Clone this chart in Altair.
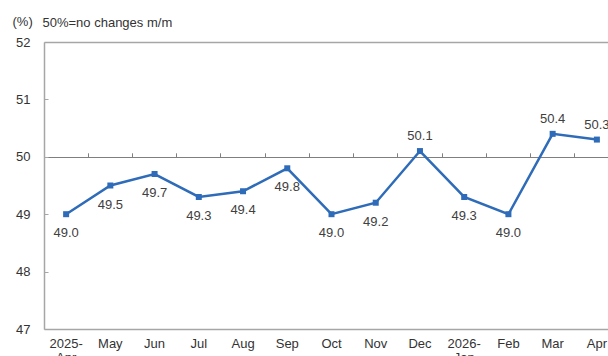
import altair as alt
import pandas as pd

months = ["2025-Apr", "May", "Jun", "Jul", "Aug", "Sep", "Oct", "Nov", "Dec",
          "2026-Jan", "Feb", "Mar", "Apr"]
values = [49.0, 49.5, 49.7, 49.3, 49.4, 49.8, 49.0, 49.2, 50.1, 49.3, 49.0, 50.4, 50.3]
y_ticks = [47, 48, 49, 50, 51, 52]

df = pd.DataFrame({"month": months, "pmi": values})
df["label"] = df["pmi"].map(lambda v: f"{v:.1f}")

FONT = "Liberation Sans"
BLUE = "#2e6bb8"
W, H = 564, 287
FULL = 575

xscale = alt.Scale(type="band", domain=months, range=[0, FULL], paddingInner=0, paddingOuter=0)
yscale = alt.Scale(domain=[47, 52], nice=False, zero=False)

label_expr = ("indexof(datum.value,'-')>0 ? [slice(datum.value,0,5), slice(datum.value,5)] : datum.value")

x_bottom = alt.X("month:N", scale=xscale, sort=months, title=None,
                 axis=alt.Axis(orient="bottom", labelAngle=0, ticks=False, tickSize=0,
                               labelPadding=8, labelExpr=label_expr, labelFont=FONT,
                               labelFontSize=13, labelColor="#333333", labelLineHeight=14,
                               domainColor="#a6a6a6", domainWidth=1.5, grid=False))
x_top = alt.X("month:N", scale=xscale, sort=months, title=None,
              axis=alt.Axis(orient="top", offset=-H * 2 / 5, labels=False, domain=False,
                            ticks=True, tickSize=4, tickColor="#808080", tickWidth=1,
                            bandPosition=0, grid=False))
x_none = alt.X("month:N", scale=xscale, sort=months, axis=None)

y_left = alt.Y("pmi:Q", scale=yscale,
               axis=alt.Axis(orient="left", values=y_ticks, ticks=False, tickSize=0,
                             labelPadding=14, labelFont=FONT, labelFontSize=13,
                             labelColor="#333333", domainColor="#a6a6a6", domainWidth=1.5,
                             grid=True,
                             gridColor={"expr": "datum.value==50 ? '#7f7f7f' : '#a6a6a6'"},
                             gridOpacity={"expr": "(datum.value==50 || datum.value==52) ? 1 : 0"},
                             gridWidth={"expr": "datum.value==50 ? 1.2 : 1.5"},
                             title="(%)", titleAngle=0, titleX=-32, titleY=-17,
                             titleAlign="left", titleBaseline="alphabetic", titleFont=FONT,
                             titleFontSize=13, titleFontWeight="normal", titleColor="#333333"))
y_right = alt.Y("pmi:Q", scale=yscale,
                axis=alt.Axis(orient="right", offset=-W, values=y_ticks, labels=False,
                              domain=False, ticks=True, tickSize=4, tickColor="#a6a6a6",
                              tickWidth=1, grid=False,
                              title="50%=no changes m/m", titleAngle=0, titleX=-2, titleY=-16,
                              titleAlign="left", titleBaseline="alphabetic", titleFont=FONT,
                              titleFontSize=13, titleFontWeight="normal", titleColor="#333333"))
y_none = alt.Y("pmi:Q", scale=yscale, axis=None)

base = alt.Chart(df)

line = base.mark_line(color=BLUE, strokeWidth=2.5).encode(x=x_bottom, y=y_left)
pts = base.mark_square(color=BLUE, size=36, opacity=1).encode(x=x_top, y=y_right)
lab_below = base.transform_filter("datum.pmi <= 50").mark_text(
    font=FONT, fontSize=13, color="#404040", baseline="alphabetic", dy=23
).encode(x=x_none, y=y_none, text="label:N")
lab_above = base.transform_filter("datum.pmi > 50").mark_text(
    font=FONT, fontSize=13, color="#404040", baseline="alphabetic", dy=-11
).encode(x=x_none, y=y_none, text="label:N")

chart = alt.layer(line, pts, lab_below, lab_above).resolve_axis(
    x="independent", y="independent"
).properties(
    width=W, height=H,
    autosize=alt.AutoSizeParams(type="none"),
    padding={"left": 44, "top": 42, "right": 0, "bottom": 27},
    background="white",
).configure_view(stroke=None)

chart.save("out.html", embed_options={"renderer": "svg", "actions": False})
